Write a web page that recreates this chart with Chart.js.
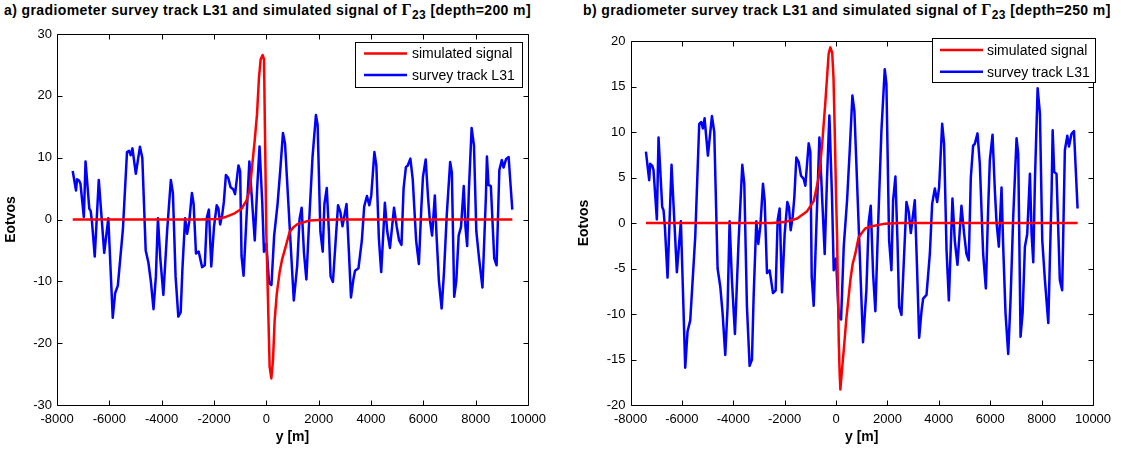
<!DOCTYPE html>
<html><head><meta charset="utf-8">
<script src="https://cdn.jsdelivr.net/npm/chart.js@4.4.0/dist/chart.umd.min.js"></script>
<style>
html,body{margin:0;padding:0;background:#fff}
body{width:1121px;height:449px;overflow:hidden;position:relative;font-family:"Liberation Sans",Arial,sans-serif}
canvas{position:absolute;top:0}
.title{position:absolute;top:1px;font-weight:bold;font-size:14px;letter-spacing:0.4px;white-space:nowrap;color:#000}
.title .g{font-family:"Liberation Serif",serif;font-size:16px}
.title sub{font-size:12px;vertical-align:-4px;line-height:0}
</style></head>
<body>
<div id="t1" class="title" style="left:4px">a) gradiometer survey track L31 and simulated signal of <span class="g">Γ</span><sub>23</sub> [depth=200 m]</div>
<div id="t2" class="title" style="left:583px">b) gradiometer survey track L31 and simulated signal of <span class="g">Γ</span><sub>23</sub> [depth=250 m]</div>
<canvas id="c1" width="560" height="449" style="left:0"></canvas>
<canvas id="c2" width="561" height="449" style="left:560px"></canvas>
<script>
// ---- data ----
const surveyX = [-7400,-7273,-7234,-7156,-7104,-6974,-6909,-6766,-6714,-6662,-6558,-6403,-6195,-6039,-5870,-5779,-5675,-5480,-5325,-5247,-5182,-5117,-4987,-4831,-4740,-4610,-4506,-4416,-4312,-4221,-4143,-4052,-3935,-3792,-3649,-3571,-3468,-3364,-3273,-3208,-3104,-3026,-2948,-2844,-2779,-2688,-2584,-2455,-2351,-2273,-2195,-2104,-2000,-1896,-1831,-1766,-1688,-1623,-1545,-1455,-1364,-1260,-1195,-1065,-1000,-948,-870,-766,-649,-584,-442,-351,-260,-156,-91,0,104,195,299,429,532,636,714,1050,1180,1270,1350,1440,1530,1635,1765,1895,1960,2065,2155,2220,2310,2390,2455,2545,2650,2740,2830,2910,3000,3065,3155,3235,3325,3390,3520,3650,3740,3845,3935,4010,4130,4205,4300,4390,4465,4530,4620,4725,4815,4880,4985,5075,5165,5245,5335,5400,5505,5595,5725,5830,5920,5985,6090,6180,6245,6335,6440,6505,6595,6700,6790,6895,7025,7090,7180,7260,7350,7440,7545,7610,7675,7740,7845,7935,8025,8130,8260,8390,8430,8490,8580,8710,8800,8905,9000,9065,9165,9260,9325,9400];
const surveyY = [7.85,4.7,6.5,6.3,5.8,0.4,9.4,1.75,1.4,-0.4,-6.0,6.4,-5.4,0.2,-15.9,-11.9,-10.7,-1.5,10.9,11.1,10.4,11.5,7.4,11.75,10,-5,-7,-9.9,-14.5,-9.2,0.2,-6.3,-12.2,-1.9,6.4,4.3,-9.2,-15.7,-15,-8.1,0.2,-2.3,-0.4,4.3,2.5,-5.5,-5.2,-7.7,-7.4,0.3,1.6,-7.6,-1.2,2.3,1.75,-0.8,0.7,2.85,7.2,6.7,5.2,4.85,4.1,8.75,7.8,-5.9,-9.1,-0.4,9.4,5.4,-3.4,5.0,11.8,2.7,-5.2,-3.9,-10.3,-10.6,-2.6,2.5,8.0,14.0,12.3,-13.1,-7.4,0.1,1.9,-5.5,-9.7,-0.4,10.1,16.9,15.3,-1.9,-5.2,2.5,5.1,-1.9,-9.2,-10.1,-3.4,2.3,1.2,-1.1,1.0,2.5,-5.2,-12.6,-9.7,-8.3,-7.9,-3.4,2.1,3.8,2.3,3.9,10.9,8.7,-3.0,-8.5,-2.6,2.7,-1.9,-4.6,-0.8,1.9,-1.2,-3.4,-4.1,5.0,8.5,8.7,9.85,6.5,-3.4,-7.2,1.6,6.9,9.7,3.6,0.1,-2.6,3.9,-2.6,-9.9,-14.4,-8.5,0.7,9.3,7.6,-12.5,-9.9,-2.6,-1.2,5.4,-1.2,-4.3,4.7,14.8,12.0,-1.9,-6.3,-11.0,3.6,10.2,5.6,5.4,-6.3,-7.4,8.0,9.6,8.4,9.8,10.1,6.1,1.6];

const sim200X = [-7400,-2500,-1846,-1593,-1211,-955,-764,-637,-548,-446,-357,-280,-217,-140,-89,-45,0,126,191,255,318,400,508,600,700,891,1050,1211,1655,2200,3000,9400];
const sim200Y = [0,0,0.1,0.35,1.0,1.7,3.0,4.7,8.4,12.7,17,23,25.9,26.6,25.9,12,-2.3,-23.8,-25.7,-22.7,-16.3,-12,-8.5,-6.5,-5,-2,-1.2,-0.7,-0.16,-0.05,0,0];

const sim250X = [-7400,-2500,-2000,-1515,-1126,-870,-675,-545,-416,-288,-222,-150,-100,-50,0,40,104,140,167,220,323,400,490,560,646,748,876,1000,1136,1395,1907,2500,9400];
const sim250Y = [0,0,0.1,0.5,1.3,2.4,5.0,8.5,13.3,18.6,19.3,18.7,16,10,3,-1.5,-12.8,-16.5,-18.3,-16.5,-13.2,-10.5,-8.1,-6.2,-4.5,-3.4,-1.6,-1.1,-0.6,-0.36,-0.07,0,0];

const xTicks = [-8000,-6000,-4000,-2000,0,2000,4000,6000,8000,10000];
const yTicksA = [-30,-20,-10,0,10,20,30];
const yTicksB = [-20,-15,-10,-5,0,5,10,15,20];
const seriesLabels = ['simulated signal','survey track L31'];
const seriesColors = ['#ff0000','#0000ff'];

// ---- helpers ----
const pts = (xs, ys) => xs.map((v,i)=>({x:v, y:ys[i]}));
const FONT = '"Liberation Sans", Arial, sans-serif';

const matlabBox = {
  id:'matlabBox',
  afterDatasetsDraw(chart){
    const {ctx, chartArea:{left,right,top,bottom}, scales:{x,y}} = chart;
    ctx.save();
    ctx.strokeStyle='#000'; ctx.lineWidth=1;
    const l=Math.round(left)+0.5, r=Math.round(right)+0.5, t=Math.round(top)+0.5, b=Math.round(bottom)+0.5;
    ctx.beginPath();
    ctx.moveTo(l,t); ctx.lineTo(r,t); ctx.lineTo(r,b); ctx.lineTo(l,b); ctx.closePath();
    const L=5;
    x.ticks.forEach(tk=>{const px=Math.round(x.getPixelForValue(tk.value))+0.5; ctx.moveTo(px,b); ctx.lineTo(px,b-L); ctx.moveTo(px,t); ctx.lineTo(px,t+L);});
    y.ticks.forEach(tk=>{const py=Math.round(y.getPixelForValue(tk.value))+0.5; ctx.moveTo(l,py); ctx.lineTo(l+L,py); ctx.moveTo(r,py); ctx.lineTo(r-L,py);});
    ctx.stroke();
    ctx.restore();
  }
};

const boxLegend = {
  id:'boxLegend',
  afterDraw(chart, args, o){
    const ctx=chart.ctx;
    ctx.save();
    ctx.fillStyle='#fff'; ctx.strokeStyle='#000'; ctx.lineWidth=1;
    ctx.fillRect(o.x,o.y,o.w,o.h);
    ctx.strokeRect(o.x+0.5,o.y+0.5,o.w,o.h);
    ctx.font = o.fontSize+'px '+FONT;
    ctx.textBaseline='middle'; ctx.textAlign='left';
    chart.data.datasets.forEach((ds,i)=>{
      const yy=o.rows[i];
      ctx.strokeStyle=ds.borderColor; ctx.lineWidth=2.5;
      ctx.beginPath(); ctx.moveTo(o.lx0,yy); ctx.lineTo(o.lx1,yy); ctx.stroke();
      ctx.fillStyle='#000';
      ctx.fillText(ds.label,o.tx,yy+1);
    });
    ctx.restore();
  }
};

function makeChart(id, simX, simY, yTicks, ymin, ymax, geom, legend){
  const ticksFromList = (list) => (scale)=>{ scale.ticks = list.map(v=>({value:v})); };
  return new Chart(document.getElementById(id), {
    type:'scatter',
    data:{datasets:[
      {label:seriesLabels[0], data:pts(simX,simY), showLine:true, borderColor:seriesColors[0], backgroundColor:seriesColors[0], borderWidth:2.5, pointRadius:0, tension:0, borderJoinStyle:'round'},
      {label:seriesLabels[1], data:pts(surveyX,surveyY), showLine:true, borderColor:seriesColors[1], backgroundColor:seriesColors[1], borderWidth:2.5, pointRadius:0, tension:0, borderJoinStyle:'round'}
    ]},
    options:{
      responsive:false, animation:false, devicePixelRatio:1,
      layout:{padding:{left:0,right:geom.padRight,top:geom.padTop,bottom:0}},
      plugins:{legend:{display:false}, tooltip:{enabled:false}, title:{display:false}, boxLegend:legend},
      scales:{
        x:{type:'linear', min:-8000, max:10000,
           afterBuildTicks: ticksFromList(xTicks),
           afterFit:(s)=>{s.height=44;},
           grid:{display:false, drawTicks:false}, border:{display:false},
           ticks:{autoSkip:false, maxRotation:0, padding:7, color:'#000', font:{family:FONT,size:13}, callback:(v)=>String(v)},
           title:{display:true, text:'y [m]', color:'#000', font:{family:FONT,size:14,weight:'bold'}, padding:{top:0,bottom:3}}
        },
        y:{type:'linear', min:ymin, max:ymax,
           afterBuildTicks: ticksFromList(yTicks),
           afterFit:(s)=>{s.width=geom.yWidth;},
           grid:{display:false, drawTicks:false}, border:{display:false},
           ticks:{autoSkip:false, padding:5, color:'#000', font:{family:FONT,size:13}, callback:(v)=>String(v)},
           title:{display:true, text:'Eotvos', color:'#000', font:{family:FONT,size:14,weight:'bold'}, padding:{top:geom.yTitlePad,bottom:0}}
        }
      }
    },
    plugins:[matlabBox, boxLegend]
  });
}

makeChart('c1', sim200X, sim200Y, yTicksA, -30, 30,
  {padRight:32, padTop:34, yWidth:57, yTitlePad:3},
  {x:355,y:42,w:167,h:45,rows:[53.5,75],lx0:364,lx1:407,tx:412,fontSize:14});
makeChart('c2', sim250X, sim250Y, yTicksB, -20, 20,
  {padRight:28, padTop:41, yWidth:70.5, yTitlePad:16},
  {x:372,y:38,w:163,h:44,rows:[50,71.7],lx0:380,lx1:423,tx:427,fontSize:14});
</script>
</body></html>
